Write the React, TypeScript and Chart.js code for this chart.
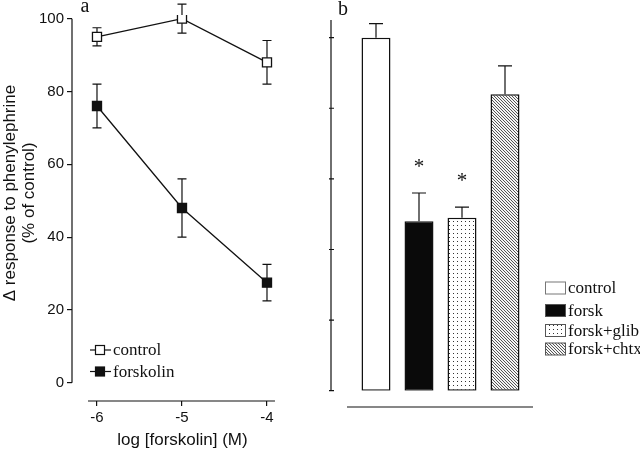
import React, { useEffect, useRef } from 'react';
import { Chart, registerables } from 'chart.js';

Chart.register(...registerables);

// ---------- Panel a data ----------
const logDose = [-6, -5, -4];
const doseTickLabels = ['-6', '-5', '-4'];
const controlMean = [95, 100, 88];
const controlErr = [2.5, 4, 6];
const forskMean = [76, 48, 27.5];
const forskErr = [6, 8, 5];
const yTicksA = [0, 20, 40, 60, 80, 100];
const legendA = ['control', 'forskolin'];

// ---------- Panel b data ----------
const barLabels = ['control', 'forsk', 'forsk+glib', 'forsk+chtx'];
const barMean = [100, 48, 49, 84];
const barErr = [4, 8, 3, 8];
const barSignificant = [false, true, true, false];
const yTicksB = [0, 20, 40, 60, 80, 100];

const SANS = 'Liberation Sans, Arial, sans-serif';
const SERIF = 'Liberation Serif, Times New Roman, serif';

function makeDotPattern(): CanvasPattern | string {
  const c = document.createElement('canvas');
  c.width = 4;
  c.height = 4;
  const g = c.getContext('2d');
  if (!g) return '#fff';
  g.fillStyle = '#fff';
  g.fillRect(0, 0, 4, 4);
  g.fillStyle = '#333';
  g.fillRect(1, 1, 1, 1);
  return g.createPattern(c, 'repeat') || '#fff';
}

function makeHatchPattern(): CanvasPattern | string {
  const c = document.createElement('canvas');
  c.width = 3;
  c.height = 3;
  const g = c.getContext('2d');
  if (!g) return '#888';
  g.fillStyle = '#f4f4f4';
  g.fillRect(0, 0, 3, 3);
  g.fillStyle = '#555';
  for (let i = 0; i < 3; i++) g.fillRect(i, i, 1, 1);
  return g.createPattern(c, 'repeat') || '#888';
}

export default function App() {
  const refA = useRef<HTMLCanvasElement | null>(null);
  const refB = useRef<HTMLCanvasElement | null>(null);

  useEffect(() => {
    if (!refA.current || !refB.current) return;

    // ---------------- Panel a ----------------
    const panelAPlugin = {
      id: 'panelA',
      beforeDatasetsDraw(chart: any) {
        const { ctx } = chart;
        const xs = chart.scales.x;
        const ys = chart.scales.y;
        ctx.save();
        ctx.strokeStyle = '#111';
        ctx.lineWidth = 1.2;
        const series: [number[], number[]][] = [
          [controlMean, controlErr],
          [forskMean, forskErr],
        ];
        series.forEach(([m, e]) => {
          m.forEach((v, i) => {
            const x = xs.getPixelForValue(logDose[i]);
            const y1 = ys.getPixelForValue(v + e[i]);
            const y2 = ys.getPixelForValue(v - e[i]);
            ctx.beginPath();
            ctx.moveTo(x, y1);
            ctx.lineTo(x, y2);
            ctx.moveTo(x - 4.5, y1);
            ctx.lineTo(x + 4.5, y1);
            ctx.moveTo(x - 4.5, y2);
            ctx.lineTo(x + 4.5, y2);
            ctx.stroke();
          });
        });
        ctx.restore();
      },
      afterDraw(chart: any) {
        const { ctx, chartArea } = chart;
        const xs = chart.scales.x;
        const ys = chart.scales.y;
        ctx.save();
        ctx.strokeStyle = '#111';
        ctx.lineWidth = 1.2;
        // y axis line (0..100)
        ctx.beginPath();
        ctx.moveTo(chartArea.left, ys.getPixelForValue(100));
        ctx.lineTo(chartArea.left, ys.getPixelForValue(0));
        ctx.stroke();
        // detached x axis line
        ctx.beginPath();
        ctx.moveTo(xs.getPixelForValue(-6.106), chartArea.bottom);
        ctx.lineTo(xs.getPixelForValue(-3.906), chartArea.bottom);
        ctx.stroke();

        // y title (two lines, rotated)
        ctx.fillStyle = '#111';
        ctx.font = `17px ${SANS}`;
        ctx.textAlign = 'center';
        ctx.textBaseline = 'middle';
        ctx.translate(10, 193);
        ctx.rotate(-Math.PI / 2);
        ctx.fillText('\u0394 response to phenylephrine', 0, 0);
        ctx.fillText('(% of control)', 0, 19);
        ctx.setTransform(1, 0, 0, 1, 0, 0);

        // panel letter
        ctx.font = `20px ${SERIF}`;
        ctx.textAlign = 'center';
        ctx.textBaseline = 'middle';
        ctx.fillText('a', 85, 7);

        // legend
        const rows = [350, 371.5];
        const fills = ['#fff', '#111'];
        rows.forEach((y, i) => {
          ctx.beginPath();
          ctx.moveTo(90, y);
          ctx.lineTo(111, y);
          ctx.stroke();
          ctx.fillStyle = fills[i];
          ctx.fillRect(95.5, y - 4.5, 9, 9);
          ctx.strokeRect(95.5, y - 4.5, 9, 9);
          ctx.fillStyle = '#111';
          ctx.font = `17px ${SERIF}`;
          ctx.textAlign = 'left';
          ctx.textBaseline = 'middle';
          ctx.fillText(legendA[i], 113, y + 1);
        });
        ctx.restore();
      },
    };

    const chartA = new Chart(refA.current, {
      type: 'line',
      data: {
        datasets: [
          {
            label: legendA[0],
            data: logDose.map((x, i) => ({ x, y: controlMean[i] })),
            borderColor: '#111',
            borderWidth: 1.3,
            pointStyle: 'rect',
            pointRadius: 6.4,
            pointBorderWidth: 1.3,
            pointBackgroundColor: '#fff',
            pointBorderColor: '#111',
          },
          {
            label: legendA[1],
            data: logDose.map((x, i) => ({ x, y: forskMean[i] })),
            borderColor: '#111',
            borderWidth: 1.3,
            pointStyle: 'rect',
            pointRadius: 6.4,
            pointBorderWidth: 1.3,
            pointBackgroundColor: '#111',
            pointBorderColor: '#111',
          },
        ],
      },
      options: {
        responsive: false,
        animation: false,
        layout: { padding: { top: 15, right: 17, bottom: 0, left: 0 } },
        plugins: { legend: { display: false }, tooltip: { enabled: false } },
        scales: {
          x: {
            type: 'linear',
            min: -6.294,
            max: -3.694,
            afterBuildTicks: (s: any) => {
              s.ticks = logDose.map((v) => ({ value: v }));
            },
            afterFit: (s: any) => {
              s.height = 48;
            },
            border: { display: false },
            grid: { drawOnChartArea: false, drawTicks: true, tickLength: 5, color: '#111', lineWidth: 1.2 },
            ticks: {
              color: '#111',
              padding: 3,
              font: { family: SANS, size: 15 },
              callback: (v: any) => {
                const i = logDose.indexOf(Number(v));
                return i >= 0 ? doseTickLabels[i] : '';
              },
            },
            title: {
              display: true,
              text: 'log [forskolin] (M)',
              color: '#111',
              font: { family: SANS, size: 17 },
              padding: { top: 0, bottom: -2 },
            },
          },
          y: {
            type: 'linear',
            min: -5,
            max: 101,
            afterBuildTicks: (s: any) => {
              s.ticks = yTicksA.map((v) => ({ value: v }));
            },
            afterFit: (s: any) => {
              s.width = 72;
            },
            border: { display: false },
            grid: { drawOnChartArea: false, drawTicks: true, tickLength: 5, color: '#111', lineWidth: 1.2 },
            ticks: { color: '#111', padding: 3, font: { family: SANS, size: 15 } },
          },
        },
      },
      plugins: [panelAPlugin],
    } as any);

    // ---------------- Panel b ----------------
    const fills = ['#fff', '#0a0a0a', makeDotPattern(), makeHatchPattern()];

    const panelBPlugin = {
      id: 'panelB',
      afterDatasetsDraw(chart: any) {
        const { ctx } = chart;
        const xs = chart.scales.x;
        const ys = chart.scales.y;
        ctx.save();
        ctx.strokeStyle = '#111';
        ctx.fillStyle = '#111';
        ctx.lineWidth = 1.2;
        barMean.forEach((v, i) => {
          const x = xs.getPixelForValue(i);
          const yTop = ys.getPixelForValue(v);
          const yErr = ys.getPixelForValue(v + barErr[i]);
          ctx.beginPath();
          ctx.moveTo(x, yTop);
          ctx.lineTo(x, yErr);
          ctx.moveTo(x - 7, yErr);
          ctx.lineTo(x + 7, yErr);
          ctx.stroke();
          if (barSignificant[i]) {
            ctx.font = `21px ${SERIF}`;
            ctx.textAlign = 'center';
            ctx.textBaseline = 'alphabetic';
            ctx.fillText('*', x, yErr - 20);
          }
        });
        ctx.restore();
      },
      afterDraw(chart: any) {
        const { ctx } = chart;
        const ys = chart.scales.y;
        ctx.save();
        ctx.strokeStyle = '#111';
        ctx.fillStyle = '#111';
        ctx.lineWidth = 1.2;
        // y axis
        const ax = 11;
        ctx.beginPath();
        ctx.moveTo(ax, 20);
        ctx.lineTo(ax, ys.getPixelForValue(0));
        yTicksB.forEach((t) => {
          const y = ys.getPixelForValue(t);
          ctx.moveTo(ax - 2, y);
          ctx.lineTo(ax + 3, y);
        });
        ctx.stroke();
        // baseline under bars
        ctx.beginPath();
        ctx.moveTo(27, 407);
        ctx.lineTo(213, 407);
        ctx.stroke();
        // panel letter
        ctx.font = `20px ${SERIF}`;
        ctx.textAlign = 'center';
        ctx.textBaseline = 'middle';
        ctx.fillText('b', 23, 10);
        // legend
        const rows = [288, 310.5, 330.5, 349];
        rows.forEach((y, i) => {
          ctx.fillStyle = fills[i];
          ctx.fillRect(225.5, y - 6, 20, 12);
          ctx.strokeStyle = i === 0 ? '#777' : '#555';
          ctx.lineWidth = 1;
          ctx.strokeRect(225.5, y - 6, 20, 12);
          ctx.fillStyle = '#111';
          ctx.font = `17px ${SERIF}`;
          ctx.textAlign = 'left';
          ctx.textBaseline = 'middle';
          ctx.fillText(barLabels[i], 248, y + 1);
        });
        ctx.restore();
      },
    };

    const chartB = new Chart(refB.current, {
      type: 'bar',
      data: {
        labels: barLabels,
        datasets: [
          {
            data: barMean,
            backgroundColor: fills,
            borderColor: '#111',
            borderWidth: 1.5,
            borderSkipped: false,
            barPercentage: 0.674,
            categoryPercentage: 1,
          },
        ],
      },
      options: {
        responsive: false,
        animation: false,
        layout: { padding: { top: 20, right: 113.5, bottom: 58.3, left: 34.5 } },
        plugins: { legend: { display: false }, tooltip: { enabled: false } },
        scales: {
          x: { display: false },
          y: { display: false, min: 0, max: 105 },
        },
      },
      plugins: [panelBPlugin],
    } as any);

    return () => {
      chartA.destroy();
      chartB.destroy();
    };
  }, []);

  return (
    <div style={{ position: 'fixed', left: 0, top: 0, width: 640, height: 449, background: '#fff' }}>
      <canvas
        ref={refA}
        width={310}
        height={449}
        style={{ position: 'absolute', left: 0, top: 0, width: 310, height: 449 }}
      />
      <canvas
        ref={refB}
        width={320}
        height={449}
        style={{ position: 'absolute', left: 320, top: 0, width: 320, height: 449 }}
      />
    </div>
  );
}
